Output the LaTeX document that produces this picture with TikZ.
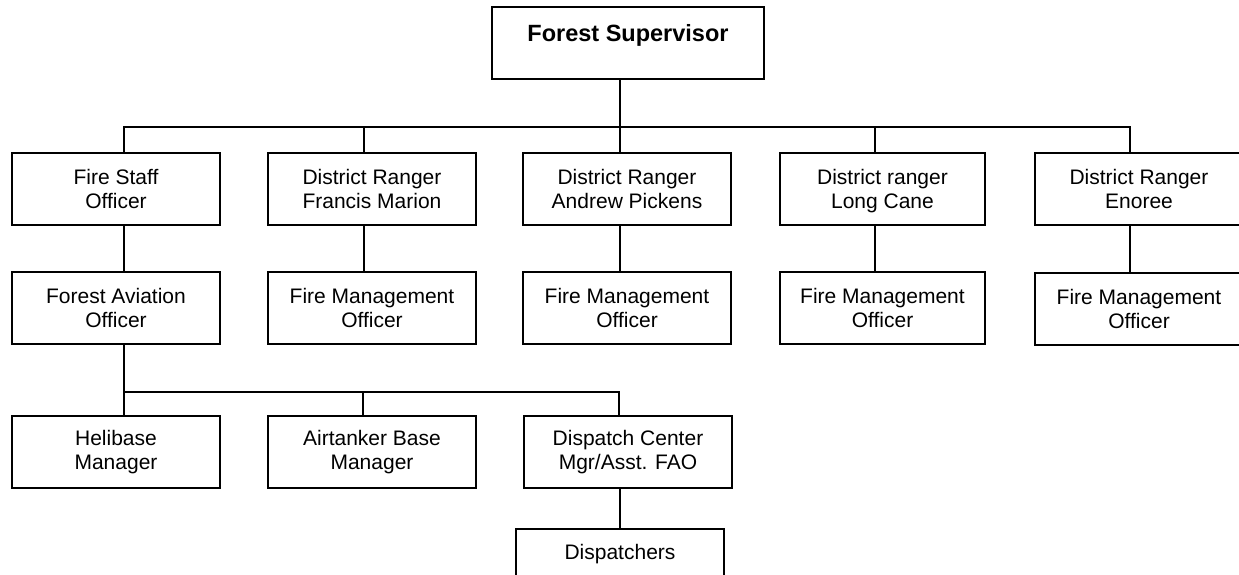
\documentclass[tikz,border=0pt]{standalone}
\usepackage{fontspec}
\setmainfont{Liberation Sans}
\begin{document}
\begin{tikzpicture}[x=1pt,y=-1pt,line width=1.4pt,
  box/.style={draw,line width=1.4pt,rectangle,minimum width=208pt,minimum height=72pt,inner sep=0pt,align=center,font=\fontsize{21}{24}\selectfont},
  conn/.style={draw,line width=1.4pt}]
\useasboundingbox (0,0) rectangle (1239,575);
\clip (0,0) rectangle (1239,575);
% top
\node[box,minimum width=272pt,font=\fontsize{23.5}{27}\selectfont\bfseries,text height=20pt,text depth=23pt] (top) at (628,43) {Forest Supervisor};
% row 1
\node[box] (fs)  at (116,189) {Fire Staff\\Officer};
\node[box] (dr1) at (372,189) {District Ranger\\Francis Marion};
\node[box] (dr2) at (627,189) {District Ranger\\Andrew Pickens};
\node[box,minimum width=205pt] (dr3) at (882.5,189) {District ranger\\\raisebox{0pt}[\height][0pt]{Long Cane}};
\node[box] (dr4) at (1139,189) {District Ranger\\Enoree};
% row 2
\node[box] (fao)  at (116,308) {Forest Aviation\\Officer};
\node[box] (fmo1) at (372,308) {Fire Management\\Officer};
\node[box] (fmo2) at (627,308) {Fire Management\\Officer};
\node[box,minimum width=205pt] (fmo3) at (882.5,308) {Fire Management\\Officer};
\node[box] (fmo4) at (1139,309) {Fire Management\\Officer};
% row 3
\node[box] (heli) at (116,452) {Helibase\\Manager};
\node[box] (air)  at (372,452) {Airtanker Base\\Manager};
\node[box] (dc)   at (628,452) {Dispatch Center\\Mgr/Asst. FAO};
\node[box,text height=15pt,text depth=26pt] (disp) at (620,565) {Dispatchers};
% buses
\coordinate (bus) at (620,127);
\coordinate (bus2) at (124,392);
\draw[conn] ([xshift=-8pt]top.south) -- (bus);
\draw[conn] ([xshift=8pt]fs.north) -- ([xshift=8pt]fs.north |- bus) -- ([xshift=-9pt]dr4.north |- bus) -- ([xshift=-9pt]dr4.north);
\draw[conn] ([xshift=-8pt]dr1.north) -- ([xshift=-8pt]dr1.north |- bus);
\draw[conn] ([xshift=-7pt]dr2.north) -- (bus);
\draw[conn] ([xshift=-7.5pt]dr3.north) -- ([xshift=-7.5pt]dr3.north |- bus);
% row1 -> row2
\draw[conn] ([xshift=8pt]fs.south) -- ([xshift=8pt]fao.north);
\draw[conn] ([xshift=-8pt]dr1.south) -- ([xshift=-8pt]fmo1.north);
\draw[conn] ([xshift=-7pt]dr2.south) -- ([xshift=-7pt]fmo2.north);
\draw[conn] ([xshift=-7.5pt]dr3.south) -- ([xshift=-7.5pt]fmo3.north);
\draw[conn] ([xshift=-9pt]dr4.south) -- ([xshift=-9pt]fmo4.north);
% aviation
\draw[conn] ([xshift=8pt]fao.south) -- ([xshift=8pt]heli.north);
\draw[conn] (bus2) -- ([xshift=-9pt]dc.north |- bus2) -- ([xshift=-9pt]dc.north);
\draw[conn] ([xshift=-9pt]air.north) -- ([xshift=-9pt]air.north |- bus2);
\draw[conn] ([xshift=-8pt]dc.south) -- (disp.north);
\end{tikzpicture}
\end{document}
